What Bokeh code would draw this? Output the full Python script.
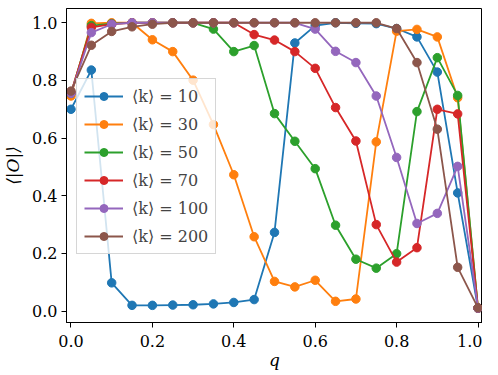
from bokeh.plotting import figure
from bokeh.models import FixedTicker, Legend, LegendItem, Range1d
from bokeh.embed import file_html
from bokeh.resources import INLINE

q = [0.0, 0.05, 0.1, 0.15, 0.2, 0.25, 0.3, 0.35, 0.4, 0.45, 0.5,
     0.55, 0.6, 0.65, 0.7, 0.75, 0.8, 0.85, 0.9, 0.95, 1.0]

k10 = [0.70, 0.836, 0.098, 0.02, 0.02, 0.021, 0.022, 0.025, 0.03, 0.04, 0.273,
       0.93, 0.99, 1.0, 0.998, 0.997, 0.98, 0.951, 0.829, 0.41, 0.01]
k30 = [0.746, 0.998, 1.0, 1.0, 0.941, 0.90, 0.801, 0.647, 0.473, 0.258, 0.103,
       0.084, 0.107, 0.034, 0.042, 0.587, 0.971, 0.977, 0.951, 0.74, 0.01]
k50 = [0.755, 0.99, 0.997, 1.0, 1.0, 1.0, 1.0, 0.978, 0.90, 0.921, 0.685,
       0.589, 0.494, 0.298, 0.18, 0.149, 0.199, 0.692, 0.879, 0.748, 0.01]
k70 = [0.757, 0.984, 0.995, 1.0, 1.0, 1.0, 1.0, 1.0, 1.0, 0.959, 0.94,
       0.90, 0.842, 0.706, 0.59, 0.30, 0.17, 0.22, 0.70, 0.684, 0.01]
k100 = [0.755, 0.966, 0.995, 1.0, 1.0, 1.0, 1.0, 1.0, 1.0, 1.0, 1.0,
        1.0, 0.978, 0.901, 0.862, 0.746, 0.533, 0.304, 0.339, 0.502, 0.01]
k200 = [0.763, 0.922, 0.970, 0.986, 0.995, 1.0, 1.0, 1.0, 1.0, 1.0, 1.0,
        1.0, 1.0, 1.0, 1.0, 1.0, 0.98, 0.862, 0.631, 0.152, 0.0115]

series = [k10, k30, k50, k70, k100, k200]
labels = ["⟨k⟩ = 10", "⟨k⟩ = 30", "⟨k⟩ = 50", "⟨k⟩ = 70", "⟨k⟩ = 100", "⟨k⟩ = 200"]
colors = ["#1f77b4", "#ff7f0e", "#2ca02c", "#d62728", "#9467bd", "#8c564b"]
ticks = [0.0, 0.2, 0.4, 0.6, 0.8, 1.0]
tick_labels = ["0.0", "0.2", "0.4", "0.6", "0.8", "1.0"]

FONT = "'DejaVu Serif'"

p = figure(width=482, height=372, output_backend="svg", toolbar_location=None,
           x_range=Range1d(-0.011, 1.011), y_range=Range1d(-0.0395, 1.0495),
           min_border_left=55, min_border_right=0, min_border_top=8, min_border_bottom=40)
p.xgrid.visible = False
p.ygrid.visible = False
p.outline_line_color = "black"
p.outline_line_alpha = 1.0
p.outline_line_width = 1
p.background_fill_color = "white"
p.border_fill_color = "white"

items = []
for ys, lab, c in zip(series, labels, colors):
    r1 = p.line(q, ys, line_color=c, line_width=1.8)
    r2 = p.scatter(q, ys, size=8.5, fill_color=c, line_color=c)
    items.append(LegendItem(label=lab, renderers=[r1, r2]))

for ax, lab in ((p.xaxis[0], "q"), (p.yaxis[0], "⟨|O|⟩")):
    ax.ticker = FixedTicker(ticks=ticks)
    ax.major_label_overrides = {t: s for t, s in zip(ticks, tick_labels)}
    ax.minor_tick_line_color = None
    ax.major_tick_in = 0
    ax.major_tick_out = 5
    ax.major_tick_line_color = "black"
    ax.axis_line_color = "black"
    ax.major_label_text_font = FONT
    ax.major_label_text_font_size = "16px"
    ax.major_label_text_color = "black"
    ax.axis_label = lab
    ax.axis_label_text_font = FONT
    ax.axis_label_text_font_size = "17px"
    ax.axis_label_text_font_style = "italic"
    ax.axis_label_text_color = "black"
p.yaxis[0].major_label_standoff = 4
p.xaxis[0].major_label_standoff = 7
p.xaxis[0].axis_label_standoff = 0
p.yaxis[0].axis_label_standoff = 6

legend = Legend(items=items, location=(10, 68), margin=0, padding=7,
                spacing=8, glyph_height=20, label_height=20, glyph_width=39,
                label_standoff=9, label_text_font=FONT, label_text_font_size="16px",
                border_line_color="#cccccc", border_line_alpha=0.8,
                background_fill_color="white", background_fill_alpha=0.8)
p.add_layout(legend)

open("out.html", "w").write(file_html(p, INLINE))
